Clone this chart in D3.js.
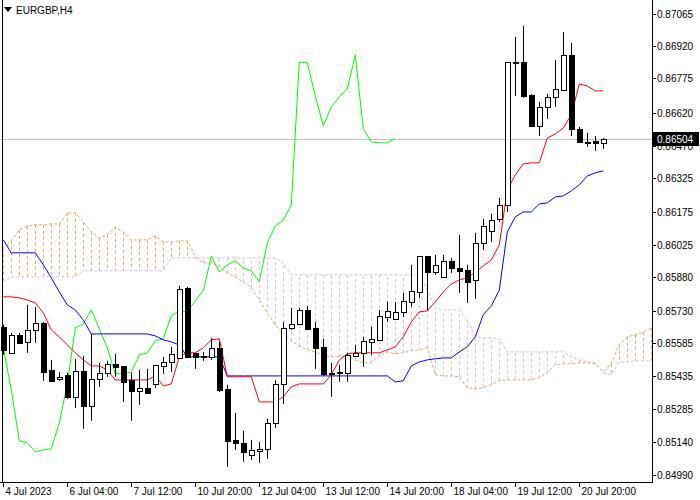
<!DOCTYPE html>
<html>
<head>
<meta charset="utf-8">
<title>EURGBP H4</title>
<script src="https://cdn.jsdelivr.net/npm/d3@7"></script>
<style>
  body { margin: 0; background: #fff; }
  text { font-family: "Liberation Sans", Arial, sans-serif; font-size: 10px; }
</style>
</head>
<body>
<script>
// OHLC, one entry per H4 bar
var opens  = [0.85657,0.85540,0.85621,0.85589,0.85643,0.85675,0.85463,0.85423,0.85441,0.85342,0.85459,0.85301,0.85423,0.85450,0.85490,0.85481,0.85418,0.85369,0.85382,0.85400,0.85481,0.85499,0.85517,0.85832,0.85540,0.85522,0.85522,0.85562,0.85378,0.85148,0.85135,0.85081,0.85099,0.85108,0.85225,0.85400,0.85652,0.85670,0.85733,0.85652,0.85567,0.85445,0.85450,0.85450,0.85526,0.85540,0.85589,0.85598,0.85702,0.85693,0.85724,0.85769,0.85814,0.85976,0.85904,0.85882,0.85954,0.85922,0.85913,0.85868,0.86035,0.86089,0.86143,0.86206,0.86849,0.86849,0.86701,0.86561,0.86647,0.86692,0.86723,0.86880,0.86548,0.86489,0.86494,0.86485];
var highs  = [0.85666,0.85630,0.85630,0.85756,0.85747,0.85679,0.85508,0.85454,0.85450,0.85513,0.85526,0.85625,0.85495,0.85504,0.85535,0.85481,0.85450,0.85463,0.85468,0.85486,0.85522,0.85567,0.85841,0.85837,0.85540,0.85544,0.85607,0.85589,0.85396,0.85270,0.85189,0.85148,0.85139,0.85243,0.85418,0.85679,0.85742,0.85742,0.85751,0.85679,0.85603,0.85495,0.85486,0.85540,0.85576,0.85612,0.85657,0.85733,0.85769,0.85769,0.85810,0.85936,0.85976,0.85976,0.85981,0.85981,0.85967,0.86071,0.85936,0.86080,0.86143,0.86165,0.86237,0.86849,0.86962,0.87011,0.86705,0.86669,0.86705,0.86858,0.86984,0.86935,0.86557,0.86530,0.86516,0.86507];
var lows   = [0.85531,0.85535,0.85585,0.85540,0.85585,0.85414,0.85414,0.85414,0.85333,0.85292,0.85198,0.85234,0.85387,0.85432,0.85432,0.85319,0.85234,0.85306,0.85360,0.85382,0.85445,0.85454,0.85517,0.85522,0.85468,0.85504,0.85508,0.85364,0.85027,0.85103,0.85049,0.85058,0.85045,0.85063,0.85202,0.85310,0.85643,0.85670,0.85648,0.85468,0.85436,0.85342,0.85409,0.85409,0.85522,0.85477,0.85531,0.85598,0.85679,0.85693,0.85702,0.85747,0.85787,0.85733,0.85891,0.85882,0.85900,0.85810,0.85765,0.85783,0.86003,0.86039,0.86129,0.86174,0.86696,0.86687,0.86561,0.86516,0.86593,0.86647,0.86719,0.86516,0.86485,0.86467,0.86449,0.86458];
var closes = [0.85553,0.85621,0.85585,0.85643,0.85675,0.85454,0.85414,0.85432,0.85342,0.85459,0.85301,0.85423,0.85450,0.85490,0.85477,0.85409,0.85369,0.85382,0.85360,0.85486,0.85499,0.85535,0.85828,0.85522,0.85522,0.85526,0.85562,0.85373,0.85144,0.85135,0.85094,0.85103,0.85108,0.85225,0.85400,0.85652,0.85670,0.85733,0.85648,0.85562,0.85445,0.85450,0.85452,0.85531,0.85540,0.85594,0.85603,0.85706,0.85729,0.85724,0.85774,0.85819,0.85976,0.85904,0.85936,0.85954,0.85922,0.85909,0.85859,0.86035,0.86111,0.86138,0.86206,0.86849,0.86845,0.86696,0.86561,0.86647,0.86692,0.86728,0.86880,0.86548,0.86489,0.86485,0.86485,0.86504];

// Ichimoku lines as shown on the chart
var tenkan = [0.85792,0.85792,0.85787,0.85778,0.85765,0.85720,0.85643,0.85612,0.85576,0.85540,0.85508,0.85481,0.85481,0.85463,0.85418,0.85418,0.85418,0.85418,0.85418,0.85436,0.85391,0.85400,0.85522,0.85540,0.85540,0.85562,0.85598,0.85603,0.85432,0.85432,0.85432,0.85432,0.85319,0.85319,0.85319,0.85342,0.85387,0.85400,0.85400,0.85400,0.85400,0.85441,0.85508,0.85535,0.85540,0.85540,0.85540,0.85540,0.85553,0.85567,0.85612,0.85679,0.85724,0.85729,0.85769,0.85814,0.85850,0.85868,0.85877,0.85904,0.85931,0.85958,0.86026,0.86273,0.86341,0.86390,0.86395,0.86395,0.86507,0.86525,0.86552,0.86611,0.86750,0.86741,0.86719,0.86719];
var kijun  = [0.86048,0.85990,0.85990,0.85990,0.85990,0.85936,0.85877,0.85814,0.85756,0.85733,0.85688,0.85625,0.85625,0.85625,0.85625,0.85625,0.85625,0.85625,0.85625,0.85616,0.85598,0.85589,0.85576,0.85522,0.85522,0.85522,0.85522,0.85522,0.85436,0.85436,0.85436,0.85436,0.85436,0.85436,0.85436,0.85436,0.85436,0.85436,0.85436,0.85436,0.85436,0.85436,0.85436,0.85436,0.85436,0.85436,0.85436,0.85436,0.85436,0.85409,0.85414,0.85481,0.85499,0.85508,0.85513,0.85517,0.85517,0.85544,0.85567,0.85612,0.85712,0.85751,0.85823,0.86084,0.86152,0.86174,0.86174,0.86210,0.86215,0.86242,0.86246,0.86269,0.86296,0.86336,0.86350,0.86359];
var spanA  = [0.86012,0.86044,0.86093,0.86111,0.86116,0.86116,0.86120,0.86120,0.86170,0.86170,0.86129,0.86084,0.86057,0.86071,0.86107,0.86084,0.86048,0.86048,0.86048,0.86066,0.86039,0.86039,0.86044,0.86044,0.85972,0.85945,0.85945,0.85927,0.85900,0.85882,0.85859,0.85832,0.85778,0.85720,0.85666,0.85621,0.85594,0.85571,0.85553,0.85544,0.85526,0.85522,0.85522,0.85526,0.85508,0.85495,0.85495,0.85526,0.85544,0.85535,0.85540,0.85549,0.85553,0.85562,0.85441,0.85436,0.85436,0.85432,0.85382,0.85378,0.85382,0.85396,0.85414,0.85418,0.85418,0.85418,0.85418,0.85427,0.85450,0.85486,0.85490,0.85490,0.85495,0.85495,0.85490,0.85454,0.85490,0.85576,0.85612,0.85621,0.85634,0.85652];
var spanB  = [0.85856,0.85882,0.85882,0.85882,0.85882,0.85882,0.85882,0.85882,0.85882,0.85882,0.85909,0.85909,0.85909,0.85909,0.85909,0.85909,0.85909,0.85909,0.85909,0.85909,0.85909,0.85967,0.85967,0.85967,0.85967,0.85967,0.85967,0.85967,0.85967,0.85967,0.85967,0.85967,0.85967,0.85967,0.85967,0.85945,0.85891,0.85891,0.85891,0.85891,0.85891,0.85891,0.85891,0.85891,0.85891,0.85891,0.85891,0.85891,0.85891,0.85891,0.85891,0.85891,0.85891,0.85823,0.85742,0.85733,0.85733,0.85733,0.85688,0.85612,0.85607,0.85607,0.85603,0.85544,0.85544,0.85544,0.85544,0.85544,0.85544,0.85544,0.85544,0.85522,0.85508,0.85499,0.85495,0.85450,0.85441,0.85499,0.85499,0.85504,0.85504,0.85504];
var chikouShift = 26;

var priceTicks = [0.87065,0.86920,0.86775,0.86620,0.86470,0.86325,0.86175,0.86025,0.85880,0.85730,0.85585,0.85435,0.85285,0.85140,0.84990];
var timeTickBars = [0,8,16,24,32,40,48,56,64,72];
var timeLabels = ["4 Jul 2023","6 Jul 04:00","7 Jul 12:00","10 Jul 20:00","12 Jul 04:00","13 Jul 12:00","14 Jul 20:00","18 Jul 04:00","19 Jul 12:00","20 Jul 20:00"];
var symbol = "EURGBP,H4";

var W = 700, H = 500, plotR = 652, plotB = 482;
var svg = d3.select("body").append("svg").attr("width", W).attr("height", H);

var x = d3.scaleLinear().domain([0, 75]).range([3.3, 603.3]);
var y = d3.scaleLinear().domain([0.84990, 0.87065]).range([475, 14]);
var px = function(i) { return Math.round(x(i)) + 0.5; };

var plot = svg.append("g");
plot.append("clipPath").attr("id", "clip").append("rect").attr("width", plotR).attr("height", plotB);
plot.attr("clip-path", "url(#clip)");

// cloud hatching
spanA.forEach(function(a, i) {
  var b = spanB[i];
  plot.append("line")
      .attr("x1", px(i)).attr("x2", px(i))
      .attr("y1", y(a)).attr("y2", y(b))
      .attr("stroke", a >= b ? "#f4a460" : "#d8bfd8")
      .attr("stroke-dasharray", "3,3");
});
var cloudLine = d3.line().x(function(d, i) { return x(i); }).y(function(d) { return y(d); }).curve(d3.curveStepAfter);
var segLine = d3.line().x(function(d, i) { return x(i); }).y(function(d) { return y(d); });
plot.append("path").attr("d", segLine(spanA)).attr("fill", "none").attr("stroke", "#f4a460").attr("stroke-dasharray", "3,2");
plot.append("path").attr("d", segLine(spanB)).attr("fill", "none").attr("stroke", "#d8bfd8").attr("stroke-dasharray", "3,2");

// current price line
var last = closes[closes.length - 1];
plot.append("line").attr("x1", 0).attr("x2", plotR).attr("y1", Math.round(y(last)) + 0.5).attr("y2", Math.round(y(last)) + 0.5)
    .attr("stroke", "#c0c0c0");

// chikou: closes drawn 26 bars back
var chikou = closes.slice(chikouShift);
plot.append("path").attr("d", d3.line().x(function(d, i) { return x(i); }).y(function(d) { return y(d); })(chikou))
    .attr("fill", "none").attr("stroke", "#00ff00");
plot.append("path").attr("d", segLine(kijun)).attr("fill", "none").attr("stroke", "#0000ff");
plot.append("path").attr("d", segLine(tenkan)).attr("fill", "none").attr("stroke", "#ff0000");

// candles
closes.forEach(function(c, i) {
  var o = opens[i], xi = px(i);
  plot.append("line").attr("x1", xi).attr("x2", xi).attr("y1", y(highs[i])).attr("y2", y(lows[i])).attr("stroke", "#000");
  var top = Math.round(y(Math.max(o, c))), bot = Math.round(y(Math.min(o, c)));
  plot.append("rect").attr("x", xi - 2.5).attr("y", top + 0.5).attr("width", 5).attr("height", Math.max(bot - top, 1))
      .attr("fill", c >= o ? "#fff" : "#000").attr("stroke", "#000").attr("shape-rendering", "crispEdges");
});

// axes frame
svg.append("line").attr("x1", plotR + 0.5).attr("x2", plotR + 0.5).attr("y1", 0).attr("y2", plotB + 0.5).attr("stroke", "#000");
svg.append("line").attr("x1", 0).attr("x2", plotR + 0.5).attr("y1", plotB + 0.5).attr("y2", plotB + 0.5).attr("stroke", "#000");
svg.append("line").attr("x1", 2.5).attr("x2", 2.5).attr("y1", 0).attr("y2", plotB).attr("stroke", "#000");

priceTicks.forEach(function(p) {
  var yy = Math.round(y(p)) + 0.5;
  svg.append("line").attr("x1", plotR).attr("x2", plotR + 4).attr("y1", yy).attr("y2", yy).attr("stroke", "#000");
  svg.append("text").attr("x", plotR + 5).attr("y", yy + 3.5).text(p.toFixed(5));
});

timeTickBars.forEach(function(b, k) {
  var xx = px(b);
  svg.append("line").attr("x1", xx).attr("x2", xx).attr("y1", plotB).attr("y2", plotB + 5).attr("stroke", "#000");
  svg.append("text").attr("x", xx + 2).attr("y", plotB + 13).text(timeLabels[k]);
});

// last price label
var ly = Math.round(y(last));
svg.append("rect").attr("x", plotR + 1).attr("y", ly - 7).attr("width", 46).attr("height", 14).attr("fill", "#000");
svg.append("text").attr("x", plotR + 5).attr("y", ly + 4).attr("fill", "#fff").text(last.toFixed(5));

// title
svg.append("path").attr("d", "M4,7 L12,7 L8,12 Z").attr("fill", "#000");
svg.append("text").attr("x", 16).attr("y", 14).text(symbol);
</script>
</body>
</html>
